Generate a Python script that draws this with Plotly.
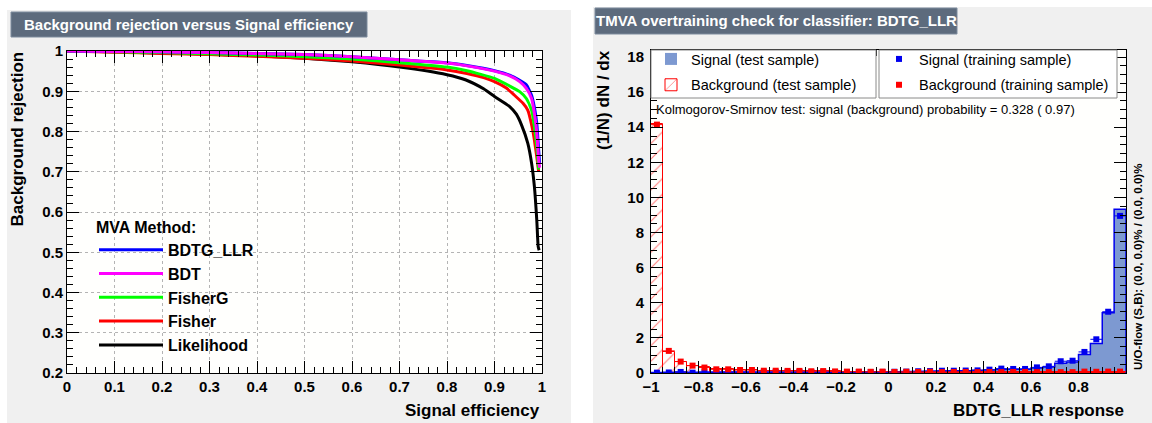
import plotly.graph_objects as go

W, H = 1152, 423

# ---- ROC curves (left panel) ----
methods = ["BDTG_LLR", "BDT", "FisherG", "Fisher", "Likelihood"]
colors = {"BDTG_LLR": "#0000ff", "BDT": "#ff00ff", "FisherG": "#00ff00",
          "Fisher": "#ff0000", "Likelihood": "#000000"}

eff_bdtg = [0, 0.1, 0.2, 0.3, 0.4, 0.5, 0.6, 0.7, 0.8, 0.842, 0.9, 0.932, 0.953, 0.967, 0.978, 0.984, 0.989, 0.993, 0.995]
rej_bdtg = [1.0, 0.999, 0.998, 0.996, 0.994, 0.991, 0.986, 0.978, 0.971, 0.964, 0.951, 0.940, 0.927, 0.916, 0.890, 0.860, 0.820, 0.754, 0.72]

eff_bdt = [0, 0.1, 0.2, 0.3, 0.4, 0.5, 0.6, 0.7, 0.8, 0.842, 0.9, 0.932, 0.953, 0.967, 0.978, 0.984, 0.989, 0.993, 0.995]
rej_bdt = [1.0, 0.999, 0.998, 0.996, 0.994, 0.991, 0.986, 0.978, 0.970, 0.963, 0.950, 0.938, 0.924, 0.907, 0.882, 0.845, 0.796, 0.729, 0.71]

eff_fisherg = [0, 0.1, 0.2, 0.3, 0.4, 0.5, 0.6, 0.7, 0.8, 0.842, 0.9, 0.932, 0.953, 0.967, 0.978, 0.984, 0.989, 0.993]
rej_fisherg = [1.0, 0.998, 0.996, 0.993, 0.990, 0.986, 0.980, 0.971, 0.960, 0.951, 0.932, 0.913, 0.899, 0.882, 0.853, 0.812, 0.762, 0.705]

eff_fisher = [0, 0.1, 0.2, 0.3, 0.4, 0.5, 0.6, 0.7, 0.8, 0.842, 0.877, 0.9, 0.925, 0.942, 0.96, 0.97, 0.979, 0.984, 0.989, 0.993]
rej_fisher = [1.0, 0.997, 0.994, 0.991, 0.987, 0.982, 0.975, 0.965, 0.953, 0.944, 0.934, 0.924, 0.908, 0.890, 0.870, 0.853, 0.812, 0.779, 0.737, 0.70]

eff_lik = [0, 0.1, 0.2, 0.3, 0.4, 0.5, 0.6, 0.7, 0.8, 0.84, 0.877, 0.9, 0.932, 0.946, 0.957, 0.97, 0.978, 0.984, 0.989, 0.992, 0.994]
rej_lik = [1.0, 0.998, 0.995, 0.992, 0.988, 0.982, 0.973, 0.960, 0.941, 0.928, 0.906, 0.887, 0.862, 0.843, 0.816, 0.771, 0.722, 0.663, 0.580, 0.514, 0.505]

roc = {"BDTG_LLR": (eff_bdtg, rej_bdtg), "BDT": (eff_bdt, rej_bdt),
       "FisherG": (eff_fisherg, rej_fisherg), "Fisher": (eff_fisher, rej_fisher),
       "Likelihood": (eff_lik, rej_lik)}

# ---- overtraining histograms (right panel), 40 bins on [-1, 1] ----
bin_edges = [-1 + 0.05 * i for i in range(41)]
bin_centers = [-0.975 + 0.05 * i for i in range(40)]

sig_test = [0.03, 0.04, 0.05, 0.04, 0.05, 0.05, 0.05, 0.05,
            0.05, 0.05, 0.05, 0.05, 0.05, 0.05, 0.05, 0.05,
            0.05, 0.06, 0.06, 0.06,
            0.07, 0.08, 0.09, 0.10,
            0.12, 0.13, 0.13, 0.15,
            0.17, 0.20, 0.21, 0.22,
            0.28, 0.34, 0.55, 0.63,
            1.05, 1.68, 3.43, 9.33]
sig_train = [0.02, 0.03, 0.06, 0.02, 0.03, 0.03, 0.05, 0.05,
             0.04, 0.05, 0.05, 0.04, 0.05, 0.05, 0.04, 0.05,
             0.05, 0.06, 0.05, 0.06,
             0.07, 0.08, 0.10, 0.11,
             0.13, 0.13, 0.14, 0.15,
             0.19, 0.25, 0.23, 0.23,
             0.32, 0.38, 0.67, 0.70,
             1.20, 1.92, 3.49, 8.95]
bkg_test = [14.2, 1.22, 0.63, 0.42, 0.32, 0.22, 0.20, 0.17,
            0.15, 0.14, 0.13, 0.12, 0.11, 0.11, 0.10, 0.09,
            0.08, 0.08, 0.08, 0.07,
            0.07, 0.07, 0.07, 0.06,
            0.06, 0.06, 0.06, 0.06,
            0.06, 0.06, 0.06, 0.06,
            0.06, 0.06, 0.06, 0.06,
            0.07, 0.07, 0.08, 0.08]
bkg_train = [14.15, 1.26, 0.65, 0.42, 0.31, 0.21, 0.21, 0.17,
             0.17, 0.13, 0.13, 0.12, 0.12, 0.10, 0.11, 0.09,
             0.08, 0.08, 0.07, 0.08,
             0.06, 0.07, 0.06, 0.07,
             0.05, 0.06, 0.06, 0.05,
             0.06, 0.05, 0.06, 0.06,
             0.05, 0.05, 0.05, 0.05,
             0.08, 0.07, 0.08, 0.08]

FONT = "Liberation Sans"
TITLE_BOX = "#5d6b7d"
SIG_LINE, SIG_FILL, BKG = "#0000ee", "#7d99d1", "#ff0000"


def px(x):
    return x / W


def py(y):
    return 1 - y / H


def step(vals):
    xs = [bin_edges[0]] + bin_edges[:-1] + [bin_edges[-1], bin_edges[-1]]
    ys = [0] + list(vals) + [vals[-1], 0]
    return xs, ys


fig = go.Figure()

# left panel curves: draw order puts BDT on top
for name in ["Likelihood", "Fisher", "FisherG", "BDTG_LLR", "BDT"]:
    e, r = roc[name]
    fig.add_trace(go.Scatter(x=e, y=r, mode="lines", name=name,
                             line=dict(color=colors[name], width=3, shape="spline", smoothing=0.5),
                             legend="legend", legendrank=methods.index(name) + 1,
                             xaxis="x", yaxis="y"))

# right panel
fig.add_trace(go.Bar(x=bin_centers, y=sig_test, width=0.05, name="Signal (test sample)",
                     marker=dict(color=SIG_FILL, line=dict(width=0)),
                     legend="legend2", legendgroup="st", xaxis="x2", yaxis="y2"))
fig.add_trace(go.Bar(x=bin_centers, y=bkg_test, width=0.05, name="Background (test sample)",
                     marker=dict(color="rgba(0,0,0,0)", line=dict(color=BKG, width=1),
                                 pattern=dict(shape="/", fgcolor=BKG, size=11, solidity=0.1)),
                     legend="legend2", legendgroup="bt", xaxis="x2", yaxis="y2"))
sx, sy = step(sig_test)
fig.add_trace(go.Scatter(x=sx, y=sy, mode="lines", line=dict(color=SIG_LINE, width=1.5, shape="hv"),
                         showlegend=False, hoverinfo="skip", xaxis="x2", yaxis="y2"))
fig.add_trace(go.Scatter(x=bin_centers, y=sig_train, mode="markers", name="Signal (training sample)",
                         marker=dict(color=SIG_LINE, size=6, symbol="square"),
                         error_x=dict(type="constant", value=0.025, width=0, thickness=1, color=SIG_LINE),
                         legend="legend3", legendgroup="sr", xaxis="x2", yaxis="y2"))
fig.add_trace(go.Scatter(x=bin_centers, y=bkg_train, mode="markers", name="Background (training sample)",
                         marker=dict(color=BKG, size=6, symbol="square"),
                         error_x=dict(type="constant", value=0.025, width=0, thickness=1, color=BKG),
                         legend="legend3", legendgroup="br", xaxis="x2", yaxis="y2"))

tickfont = dict(family=FONT, size=15, color="black", weight="bold")
common = dict(showline=True, linecolor="black", linewidth=1, mirror="allticks",
              ticks="inside", tickcolor="black", tickfont=tickfont, zeroline=False,
              automargin=False)

shapes = [
    dict(type="rect", xref="paper", yref="paper", x0=px(7), x1=px(571), y0=0, y1=py(10),
         fillcolor="#f0f0f0", line_width=0, layer="below"),
    dict(type="rect", xref="paper", yref="paper", x0=px(593), x1=1, y0=0, y1=py(7),
         fillcolor="#f0f0f0", line_width=0, layer="below"),
    dict(type="rect", xref="paper", yref="paper", x0=px(67), x1=px(542), y0=py(373), y1=py(51),
         fillcolor="#fffffd", line_width=0, layer="below"),
    dict(type="rect", xref="paper", yref="paper", x0=px(651), x1=px(1126), y0=py(373), y1=py(50),
         fillcolor="#fffffd", line_width=0, layer="below"),
    dict(type="rect", xref="paper", yref="paper", x0=px(11), x1=px(367), y0=py(37), y1=py(12),
         fillcolor=TITLE_BOX, line=dict(color="#7d8b9d", width=1)),
    dict(type="rect", xref="paper", yref="paper", x0=px(595), x1=px(957), y0=py(34), y1=py(8),
         fillcolor=TITLE_BOX, line=dict(color="#7d8b9d", width=1)),
    # legend frames of the right panel
    dict(type="rect", xref="paper", yref="paper", x0=px(651), x1=px(876), y0=py(98), y1=py(50),
         fillcolor="white", line=dict(color="#8a8a8a", width=1), layer="above"),
    dict(type="rect", xref="paper", yref="paper", x0=px(879), x1=px(1117), y0=py(98), y1=py(50),
         fillcolor="white", line=dict(color="#8a8a8a", width=1), layer="above"),
]

bold = dict(family=FONT, color="black", weight="bold")
annotations = [
    dict(text="Background rejection versus Signal efficiency", x=px(189), y=py(24.5),
         font=dict(family=FONT, size=15, color="white", weight="bold")),
    dict(text="TMVA overtraining check for classifier: BDTG_LLR", x=px(776), y=py(21),
         font=dict(family=FONT, size=15, color="white", weight="bold")),
    dict(text="Signal efficiency", x=px(542), y=py(410), xanchor="right", font=dict(size=17, **bold)),
    dict(text="Background rejection", x=px(17), y=py(50), yanchor="top", textangle=-90,
         font=dict(size=17, **bold)),
    dict(text="BDTG_LLR response", x=px(1126), y=py(410), xanchor="right", font=dict(size=17, **bold)),
    dict(text="(1/N) dN / dx", x=px(604), y=py(48), yanchor="top", textangle=-90,
         font=dict(size=17, **bold)),
    dict(text="Kolmogorov-Smirnov test: signal (background) probability = 0.328 ( 0.97)",
         x=px(654), y=py(110), xanchor="left",
         font=dict(family=FONT, size=13, color="black")),
    dict(text="U/O-flow (S,B): (0.0, 0.0)% / (0.0, 0.0)%", x=px(1138), y=py(372), yanchor="bottom",
         textangle=-90, font=dict(family=FONT, size=11.5, color="black", weight="bold")),
]
for a in annotations:
    a.update(xref="paper", yref="paper", showarrow=False)
    a.setdefault("xanchor", "center")
    a.setdefault("yanchor", "middle")

right_legend = dict(yanchor="top", xanchor="left", font=dict(family=FONT, size=14.5, color="black"),
                    bgcolor="rgba(0,0,0,0)", borderwidth=0, itemwidth=30,
                    traceorder="grouped", tracegroupgap=4)

fig.update_layout(
    width=W, height=H, margin=dict(l=0, r=0, t=0, b=0, autoexpand=False),
    paper_bgcolor="white", plot_bgcolor="rgba(0,0,0,0)",
    barmode="overlay", bargap=0,
    font=dict(family=FONT),
    xaxis=dict(domain=[px(67), px(542)], range=[0, 1], dtick=0.1, ticklen=12,
               showgrid=True, gridcolor="#b4b4b4", griddash="dot", gridwidth=1,
               minor=dict(dtick=0.02, ticks="inside", ticklen=6, tickcolor="black", showgrid=False),
               anchor="y", **common),
    yaxis=dict(domain=[py(373), py(51)], range=[0.2, 1], dtick=0.1, ticklen=12,
               showgrid=True, gridcolor="#b4b4b4", griddash="dot", gridwidth=1,
               minor=dict(dtick=0.02, ticks="inside", ticklen=6, tickcolor="black", showgrid=False),
               anchor="x", **common),
    xaxis2=dict(domain=[px(651), px(1126)], range=[-1, 1], ticklen=12,
                tickvals=[-1, -0.8, -0.6, -0.4, -0.2, 0, 0.2, 0.4, 0.6, 0.8],
                ticktext=["\u22121", "\u22120.8", "\u22120.6", "\u22120.4", "\u22120.2", "0", "0.2", "0.4", "0.6", "0.8"],
                showgrid=False,
                minor=dict(dtick=0.05, ticks="inside", ticklen=6, tickcolor="black"),
                anchor="y2", **common),
    yaxis2=dict(domain=[py(373), py(50)], range=[0, 18.4], dtick=2, ticklen=12, showgrid=False,
                ticklabelstandoff=3,
                minor=dict(dtick=0.5, ticks="inside", ticklen=6, tickcolor="black"),
                anchor="x2", **common),
    legend=dict(x=px(94), y=py(212), xanchor="left", yanchor="top",
                title=dict(text="MVA Method:", side="top", font=dict(size=16, **bold)),
                font=dict(size=16, **bold), bgcolor="rgba(0,0,0,0)", itemwidth=64,
                tracegroupgap=0),
    legend2=dict(x=px(651), y=py(43), **right_legend),
    legend3=dict(x=px(879), y=py(43), **right_legend),
    shapes=shapes, annotations=annotations,
)

fig.write_html("out.html", config={"displayModeBar": False},
               post_script="document.body.style.margin='0';")
